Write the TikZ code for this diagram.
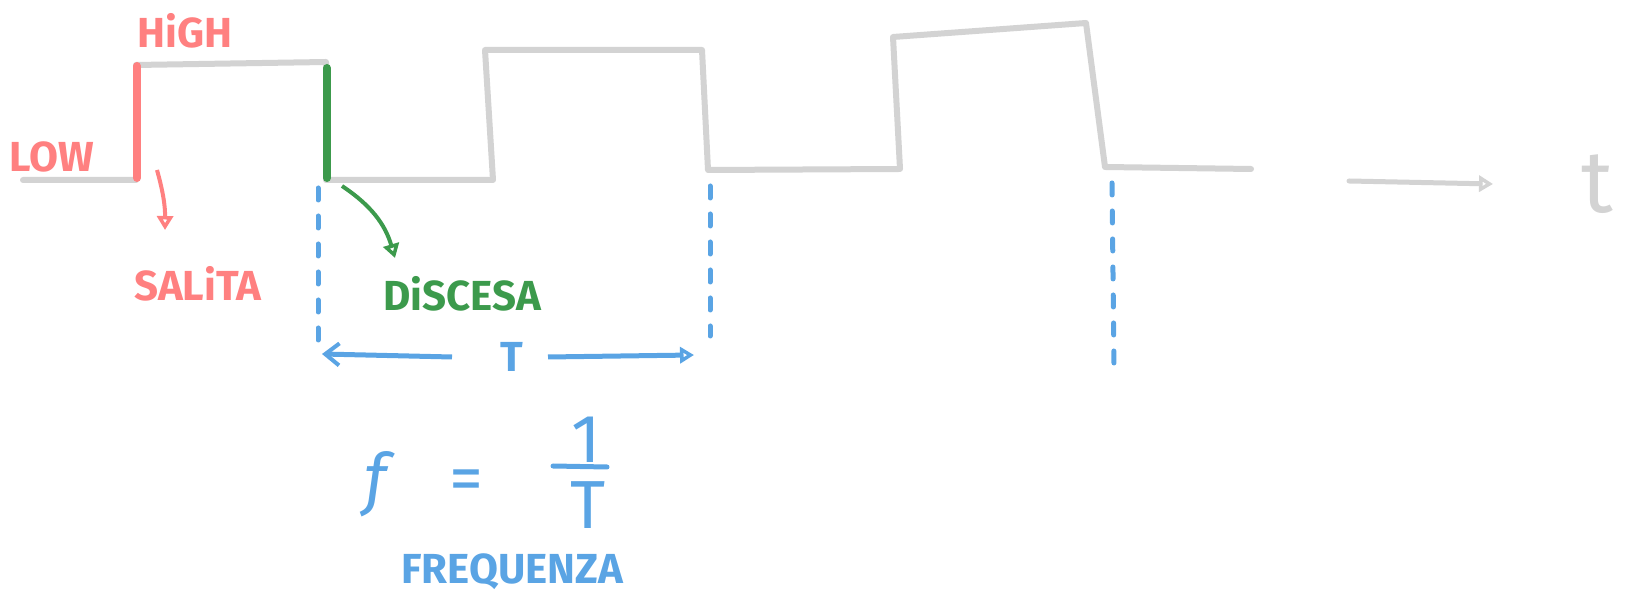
\documentclass[tikz,border=0pt]{standalone}
\usepackage{fontspec}
\setmainfont{Fira Sans}
\usetikzlibrary{arrows.meta}
\definecolor{wavegray}{HTML}{D3D3D3}
\definecolor{upred}{HTML}{FF8080}
\definecolor{downgreen}{HTML}{3C9A4C}
\definecolor{periodblue}{HTML}{5AA4E4}
\begin{document}
\begin{tikzpicture}[x=0.5pt,y=-0.5pt,
  every node/.style={font=\fontsize{21}{26}\selectfont\bfseries},
  wave/.style={draw=wavegray,line width=3pt,line join=round,line cap=round},
  edge mark/.style={line width=4pt,line cap=round},
  guide/.style={draw=periodblue,line width=2.5pt,line cap=round,dash pattern=on 6pt off 8pt},
  tip/.style={-{Triangle[open,length=7pt,width=8pt,line width=2pt]}},
  bignum/.style={text=periodblue,font=\fontsize{34}{38}\selectfont}]
\useasboundingbox (0,0) rectangle (1637,597);
% square wave
\draw[wave] (23,180) -- (136,180) -- (136,65) -- (326,62) -- (326,180) -- (493,180)
  -- (485,50) -- (702,50) -- (708,170) -- (900,169) -- (893,37) -- (1086,23)
  -- (1105,167) -- (1251,169);
\coordinate (tstart) at (1349,181);
\coordinate (tend) at (1493,184);
\draw[wave,line width=2.5pt,tip] (tstart) -- (tend);
\node[text=wavegray,font=\fontsize{44}{44}\selectfont] (tlab) at (1597,184) {t};
% rising and falling edges
\coordinate (riseA) at (137,66); \coordinate (riseB) at (137,178);
\coordinate (fallA) at (327,68); \coordinate (fallB) at (327,178);
\draw[edge mark,upred] (riseA) -- (riseB);
\draw[edge mark,downgreen] (fallA) -- (fallB);
\node[text=upred] (high) at (185,31) {HiGH};
\node[text=upred] (low) at (52,157) {LOW};
\node[text=upred] (salita) at (198,284) {SALiTA};
\node[text=downgreen] (discesa) at (462,294) {DiSCESA};
\coordinate (riseArr) at (157,170);
\coordinate (riseTip) at (165,230);
\coordinate (fallArr) at (342,186);
\coordinate (fallTip) at (395,258);
\draw[upred,line width=2pt,tip] (riseArr) to[bend left=8] (riseTip);
\draw[downgreen,line width=2pt,tip] (fallArr) to[bend left=20] (fallTip);
% period
\coordinate (g1a) at (318,188); \coordinate (g1b) at (318,355);
\coordinate (g2a) at (710,186); \coordinate (g2b) at (710,336);
\coordinate (g3a) at (1112,183); \coordinate (g3b) at (1114,365);
\draw[guide] (g1a) -- (g1b);
\draw[guide] (g2a) -- (g2b);
\draw[guide] (g3a) -- (g3b);
\node[text=periodblue] (per) at (512,357) {T};
\coordinate (perL) at (322,354);
\coordinate (perR) at (694,355);
\draw[periodblue,line width=2.5pt,-{Straight Barb[length=7pt,width=11pt,line width=2pt]}] ([xshift=-30pt]per.center) -- (perL);
\draw[periodblue,line width=2.5pt,tip] ([xshift=18pt]per.center) -- (perR);
% frequency
\node[bignum] (fsym) at (376,484) {\itshape f};
\node[bignum] (eq) at (466,486) {=};
\node[bignum] (one) at (586,440) {1};
\node[bignum] (den) at (588,505) {T};
\coordinate (barL) at (553,466); \coordinate (barR) at (607,467);
\draw[periodblue,line width=2.5pt,line cap=round] (barL) -- (barR);
\node[text=periodblue] (freq) at (512,572) {FREQUENZA};
\end{tikzpicture}
\end{document}
